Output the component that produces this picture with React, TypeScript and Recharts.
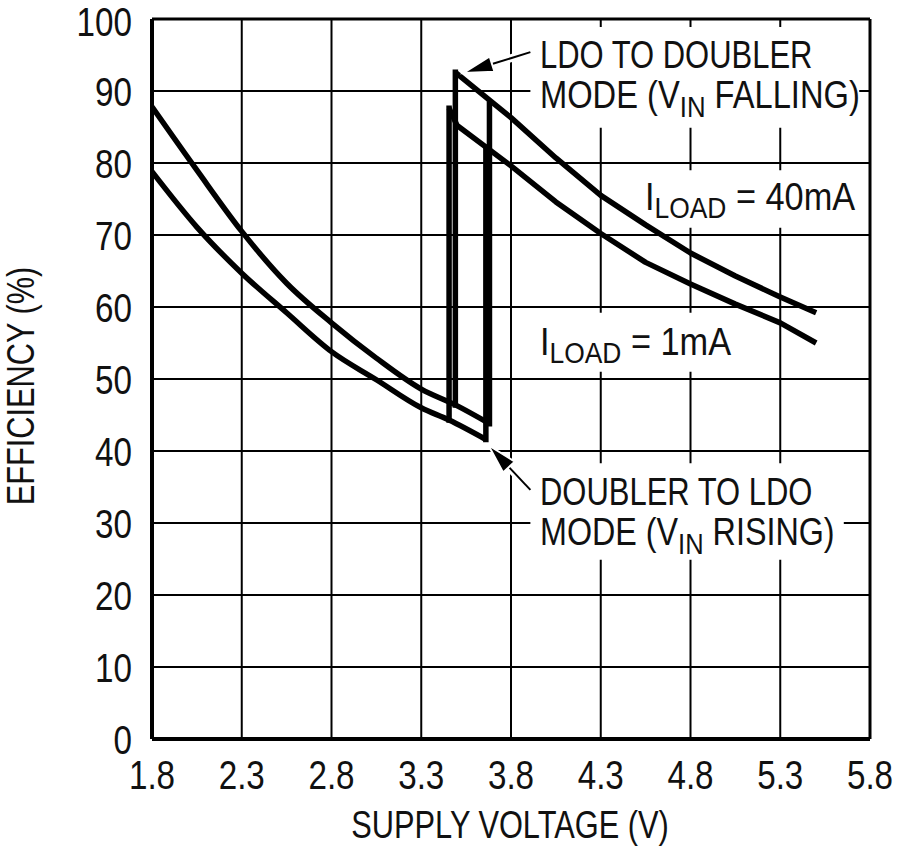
import React from "react";
import {
  LineChart,
  Line,
  XAxis,
  YAxis,
  CartesianGrid,
  ReferenceLine,
  ReferenceArea,
} from "recharts";

// Supply voltage (V) / efficiency (%)
const voltageTicks = [1.8, 2.3, 2.8, 3.3, 3.8, 4.3, 4.8, 5.3, 5.8];
const efficiencyTicks = [0, 10, 20, 30, 40, 50, 60, 70, 80, 90, 100];

// ILOAD = 40mA
const doubler40mA: [number, number][] = [
  [1.8, 87.8], [2.05, 79], [2.3, 70.5], [2.55, 63.3], [2.8, 57.8],
  [3.05, 52.9], [3.3, 48.6], [3.49, 46.4], [3.68, 43.8],
];
const rise40mA: [number, number][] = [[3.68, 43.8], [3.68, 88.2]];
const fall40mA: [number, number][] = [[3.49, 46.4], [3.49, 92.6]];
const ldo40mA: [number, number][] = [
  [3.49, 92.6], [3.8, 86.3], [4.05, 80.7], [4.3, 75.5], [4.55, 71.4],
  [4.8, 67.5], [5.05, 64.3], [5.3, 61.4], [5.5, 59.2],
];

// ILOAD = 1mA
const doubler1mA: [number, number][] = [
  [1.8, 78.8], [2.05, 71.1], [2.3, 64.7], [2.55, 59.2], [2.8, 53.8],
  [3.05, 49.9], [3.3, 46], [3.455, 44.3], [3.66, 41.6],
];
const rise1mA: [number, number][] = [[3.66, 41.6], [3.66, 82.2]];
const fall1mA: [number, number][] = [[3.455, 44.3], [3.455, 87.6]];
const ldo1mA: [number, number][] = [
  [3.455, 87.6], [3.5, 85.2], [3.8, 79.6], [4.05, 74.6], [4.3, 70.2],
  [4.55, 66.2], [4.8, 63.2], [5.05, 60.4], [5.3, 57.8], [5.5, 55],
];

// annotation arrows: [tail, tip]
const arrowFalling: [number, number][] = [[3.908, 95.4], [3.535, 92.5]];
const arrowRising: [number, number][] = [[3.908, 34.6], [3.674, 40.8]];

// white boxes behind the annotation text: [v1, v2, e1, e2]
const labelBoxes: [number, number, number, number][] = [
  [3.908, 5.74, 84.9, 98.9],
  [4.52, 5.76, 71.0, 79.0],
  [3.925, 5.107, 51.0, 59.2],
  [3.908, 5.654, 24.9, 38.3],
];

const toPts = (pairs: [number, number][]) => pairs.map(([v, e]) => ({ v, e }));

const doublerCurves = [doubler40mA, doubler1mA].map(toPts);
const ldoCurves = [ldo40mA, ldo1mA].map(toPts);
const jumps = [rise40mA, fall40mA, rise1mA, fall1mA].map(toPts);

const FONT = '"Liberation Sans", Arial, sans-serif';
const SQUEEZE = 0.81;

function Arrow(props: any) {
  const { x1, y1, x2, y2 } = props;
  if ([x1, y1, x2, y2].some((n) => typeof n !== "number")) return null;
  const dx = x2 - x1;
  const dy = y2 - y1;
  const len = Math.hypot(dx, dy) || 1;
  const ux = dx / len;
  const uy = dy / len;
  const head = 30;
  const half = 8;
  const bx = x2 - ux * head;
  const by = y2 - uy * head;
  const pts = `${x2},${y2} ${bx - uy * half},${by + ux * half} ${bx + uy * half},${by - ux * half}`;
  return (
    <g>
      <line x1={x1} y1={y1} x2={bx} y2={by} stroke="#fff" strokeWidth={8} />
      <line x1={x1} y1={y1} x2={bx} y2={by} stroke="#000" strokeWidth={2} />
      <polygon points={pts} fill="#000" stroke="#fff" strokeWidth={2} />
    </g>
  );
}

// condensed tick labels (Helvetica Condensed look)
function XTick(props: any) {
  const { x, y, payload } = props;
  return (
    <text
      transform={`translate(${x},${y}) scale(${SQUEEZE},1)`}
      textAnchor="middle"
      dy={29}
      fontSize={41}
      fontFamily={FONT}
      fill="#111"
    >
      {Number(payload.value).toFixed(1)}
    </text>
  );
}

function YTick(props: any) {
  const { x, y, payload } = props;
  // top label nudged down a little so it stays inside the page
  const dy = payload.value === 100 ? 17 : 14.5;
  return (
    <text
      transform={`translate(${x},${y}) scale(${SQUEEZE},1)`}
      textAnchor="end"
      dy={dy}
      fontSize={41}
      fontFamily={FONT}
      fill="#111"
    >
      {payload.value}
    </text>
  );
}

function Note({ x, y, anchor, rotate, squeeze, size, children }: any) {
  const rot = rotate ? ` rotate(${rotate})` : "";
  return (
    <text
      transform={`translate(${x},${y})${rot} scale(${squeeze ?? SQUEEZE},1)`}
      textAnchor={anchor ?? "start"}
      fontSize={size ?? 38}
    >
      {children}
    </text>
  );
}

export default function App() {
  const sub = 30;
  return (
    <div style={{ position: "absolute", left: 0, top: 0, width: 900, height: 855, background: "#fff" }}>
      <LineChart
        width={900}
        height={855}
        margin={{ top: 19, right: 30, left: 0, bottom: 0 }}
      >
        <CartesianGrid stroke="#000" strokeWidth={2} />
        <XAxis
          type="number"
          dataKey="v"
          domain={[1.8, 5.8]}
          ticks={voltageTicks}
          allowDataOverflow
          height={116}
          tickSize={0}
          tickMargin={21}
          axisLine={{ stroke: "#000", strokeWidth: 4 }}
          tick={<XTick />}
        />
        <YAxis
          type="number"
          dataKey="e"
          domain={[0, 100]}
          ticks={efficiencyTicks}
          allowDataOverflow
          width={152}
          tickSize={0}
          tickMargin={20}
          axisLine={{ stroke: "#000", strokeWidth: 4 }}
          tick={<YTick />}
        />
        <ReferenceLine y={100} stroke="#000" strokeWidth={3} />
        <ReferenceLine x={5.8} stroke="#000" strokeWidth={3} />
        {labelBoxes.map(([v1, v2, e1, e2], i) => (
          <ReferenceArea
            key={`box-${i}`}
            x1={v1}
            x2={v2}
            y1={e1}
            y2={e2}
            fill="#fff"
            fillOpacity={1}
            stroke="none"
          />
        ))}
        {doublerCurves.map((d, i) => (
          <Line
            key={`doubler-${i}`}
            data={d}
            dataKey="e"
            type="monotoneX"
            stroke="#000"
            strokeWidth={5.5}
            dot={false}
            activeDot={false}
            isAnimationActive={false}
          />
        ))}
        {ldoCurves.map((d, i) => (
          <Line
            key={`ldo-${i}`}
            data={d}
            dataKey="e"
            type="linear"
            stroke="#000"
            strokeWidth={5.5}
            strokeLinejoin="round"
            dot={false}
            activeDot={false}
            isAnimationActive={false}
          />
        ))}
        {jumps.map((d, i) => (
          <Line
            key={`jump-${i}`}
            data={d}
            dataKey="e"
            type="linear"
            stroke="#000"
            strokeWidth={5.5}
            strokeLinecap="square"
            dot={false}
            activeDot={false}
            isAnimationActive={false}
          />
        ))}
        <ReferenceLine
          segment={arrowFalling.map(([x, y]) => ({ x, y }))}
          shape={Arrow}
        />
        <ReferenceLine
          segment={arrowRising.map(([x, y]) => ({ x, y }))}
          shape={Arrow}
        />
      </LineChart>
      <svg
        width={900}
        height={855}
        style={{ position: "absolute", left: 0, top: 0, pointerEvents: "none" }}
        fontFamily={FONT}
        fill="#111"
      >
        <Note x={540} y={68} squeeze={0.815}>LDO TO DOUBLER</Note>
        <Note x={540} y={108} squeeze={0.86}>
          MODE (V<tspan fontSize={sub} dy={9}>IN</tspan>
          <tspan dy={-9}> FALLING)</tspan>
        </Note>
        <Note x={645} y={210} squeeze={0.88} size={39}>
          I<tspan fontSize={sub} dy={8}>LOAD</tspan>
          <tspan dy={-8}> = 40mA</tspan>
        </Note>
        <Note x={540} y={355} squeeze={0.88} size={39}>
          I<tspan fontSize={sub} dy={8}>LOAD</tspan>
          <tspan dy={-8}> = 1mA</tspan>
        </Note>
        <Note x={540} y={505} squeeze={0.815}>DOUBLER TO LDO</Note>
        <Note x={540} y={545} squeeze={0.85}>
          MODE (V<tspan fontSize={sub} dy={9}>IN</tspan>
          <tspan dy={-9}> RISING)</tspan>
        </Note>
        <Note x={510} y={838} anchor="middle">SUPPLY VOLTAGE (V)</Note>
        <Note x={34} y={386} anchor="middle" rotate={-90}>EFFICIENCY (%)</Note>
      </svg>
    </div>
  );
}
